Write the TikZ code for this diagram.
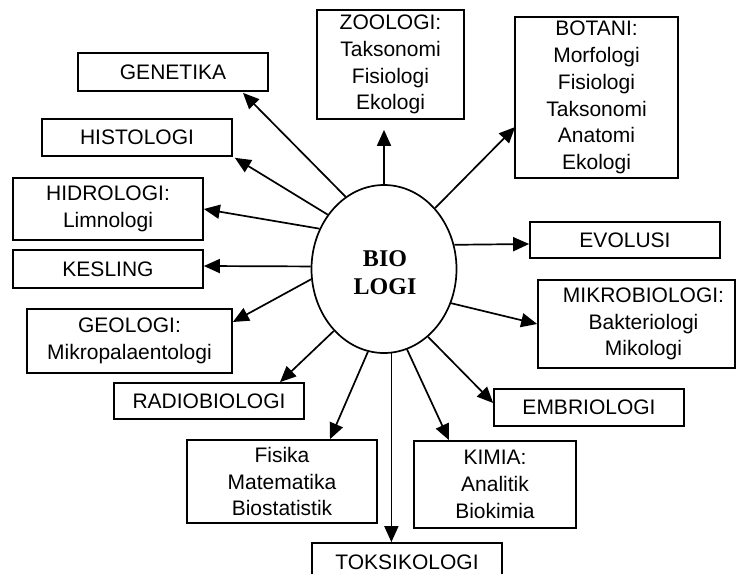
\documentclass[tikz,border=0pt]{standalone}
\usepackage{fontspec}
\setmainfont{Liberation Sans}
\newfontfamily\biofont{Liberation Serif}
\usetikzlibrary{arrows.meta,shapes.geometric,calc}
\begin{document}
\begin{tikzpicture}[x=1pt,y=-1pt,
  box/.style={draw,line width=1.7pt,inner sep=0pt,align=center,font=\fontsize{21}{26.7}\selectfont},
  arr/.style={line width=1.7pt,-{Triangle[length=16pt,width=14pt]}}]
\useasboundingbox (0,0) rectangle (736,573);
\clip (0,0) rectangle (736,573);
\fill[white] (0,0) rectangle (736,573);
\node[draw,ellipse,line width=1.7pt,minimum width=145pt,minimum height=168pt,inner sep=0pt] (bio) at (384,269) {};
\node[align=center,inner sep=0pt,font=\biofont\bfseries\fontsize{24}{28}\selectfont] (biotxt) at (385,273) {BIO\\LOGI};
\node[box,minimum width=190pt,minimum height=38pt] (gen) at (173,72) {GENETIKA};
\node[box,minimum width=190pt,minimum height=37pt] (his) at (137,137.5) {HISTOLOGI};
\node[box,minimum width=190pt,minimum height=62pt] (hid) at (108,209) {HIDROLOGI:\\Limnologi};
\node[box,minimum width=190pt,minimum height=38pt] (kes) at (108,269) {KESLING};
\node[box,minimum width=205pt,minimum height=64pt] (geo) at (129.5,341) {GEOLOGI:\\Mikropalaentologi};
\node[box,minimum width=190pt,minimum height=36pt] (rad) at (209,401) {RADIOBIOLOGI};
\node[box,minimum width=190pt,minimum height=83pt] (fis) at (282,481.5) {Fisika\\Matematika\\Biostatistik};
\node[box,minimum width=190pt,minimum height=38pt] (tok) at (407,562) {TOKSIKOLOGI};
\node[box,minimum width=162pt,minimum height=87pt] (kim) at (495,484.5) {KIMIA:\\Analitik\\Biokimia};
\node[box,minimum width=190pt,minimum height=37pt] (emb) at (589,407.5) {EMBRIOLOGI};
\node[box,minimum width=197pt,minimum height=88pt] (mik) at (636.5,324)
  {\hspace*{14pt}MIKROBIOLOGI:\\\hspace*{14pt}Bakteriologi\\\hspace*{14pt}Mikologi};
\node[box,minimum width=190pt,minimum height=36pt] (evo) at (625,240) {EVOLUSI};
\node[box,minimum width=163pt,minimum height=161pt] (bot) at (596.5,97.5) {BOTANI:\\Morfologi\\Fisiologi\\Taksonomi\\Anatomi\\Ekologi};
\node[box,minimum width=147pt,minimum height=109pt] (zoo) at (390.5,64.5) {ZOOLOGI:\\Taksonomi\\Fisiologi\\Ekologi};
\draw[arr] (bio.118) -- ($(gen.south)+(70,1)$);
\draw[arr] (bio.136.5) -- ($(his.south east)+(2,1)$);
\draw[arr] (bio.148.8) -- (hid.east);
\draw[arr] (bio.178) -- ($(kes.east)+(0,-3)$);
\draw[arr] (bio.188.7) -- ($(geo.east)+(0,-19)$);
\draw[arr] (bio.231) -- ($(rad.north)+(71,0)$);
\draw[arr] (bio.259) -- ($(fis.north)+(48,0)$);
\draw[arr] (bio.275) -- (bio.275 |- tok.north);
\draw[arr] (bio.286.6) -- ($(kim.north)+(-46,0)$);
\draw[arr] (bio.303) -- ($(emb.west)+(0,-4.5)$);
\draw[arr] (bio.333.8) -- (mik.west);
\draw[arr] (bio.19) -- ($(evo.west)+(0,4)$);
\draw[arr] (bio.50.6) -- ($(bot.west)+(1,29.5)$);
\draw[arr] (bio.north) -- ($(bio.north |- zoo.south)+(0,10)$);
\end{tikzpicture}
\end{document}
